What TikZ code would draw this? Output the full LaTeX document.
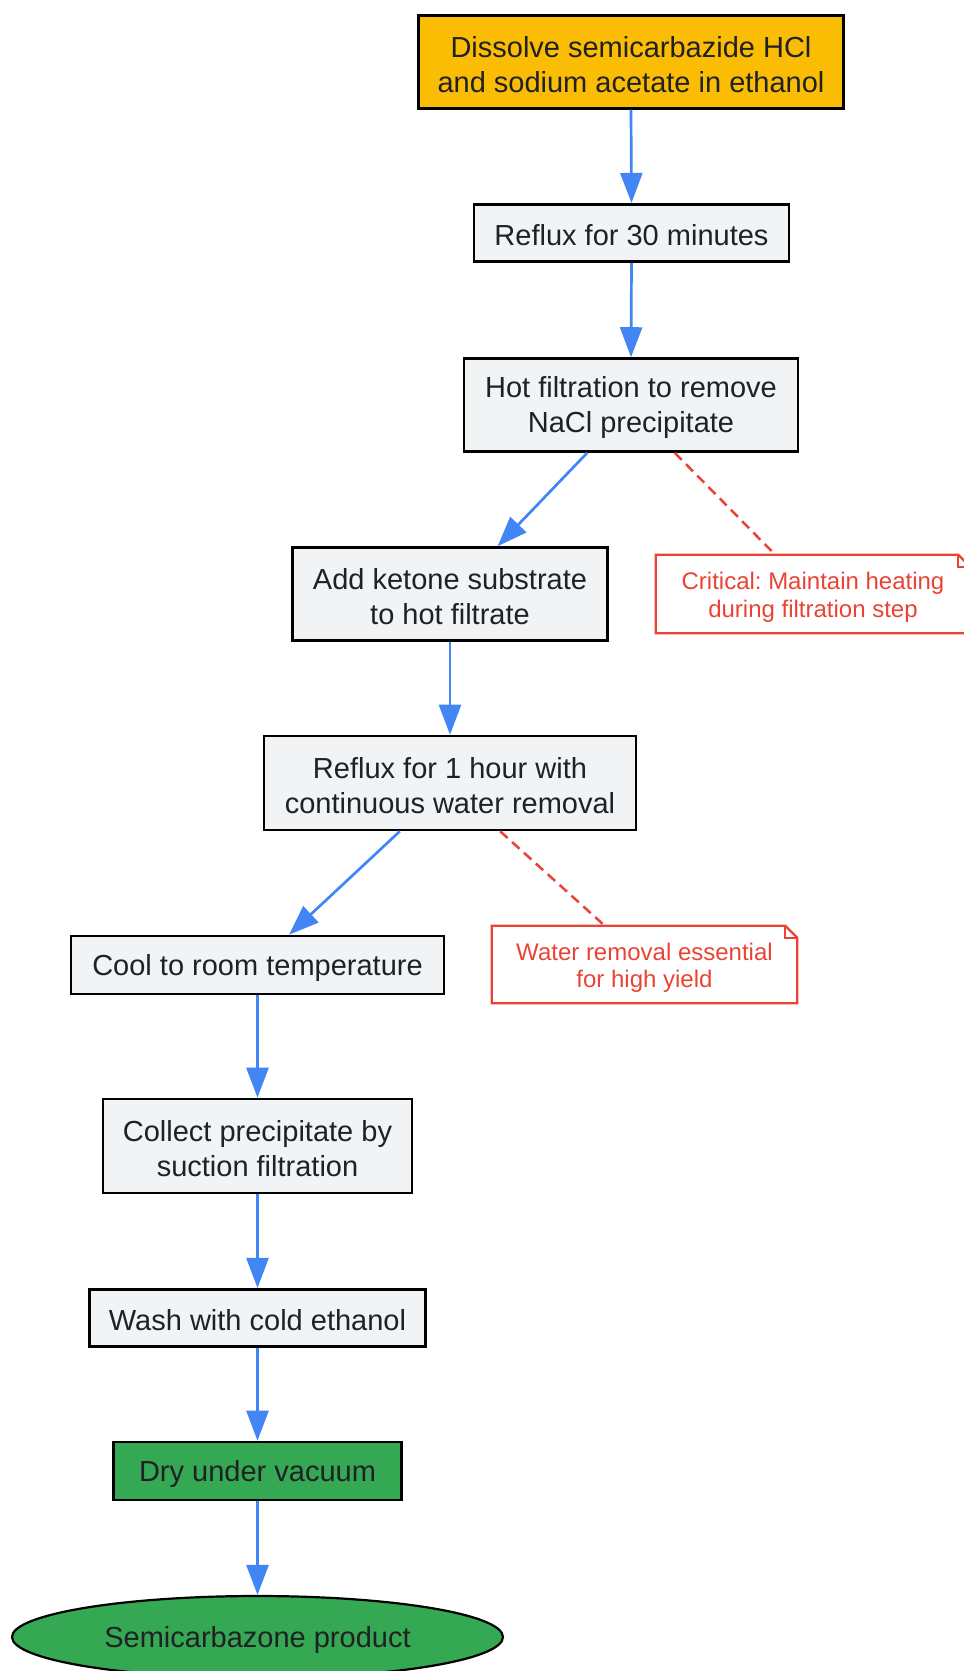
\documentclass[tikz,border=0pt]{standalone}
\usepackage{fontspec}
\setmainfont{Liberation Sans}
\usetikzlibrary{arrows.meta,shapes.geometric,calc}
\definecolor{txt}{HTML}{202124}
\definecolor{boxgray}{HTML}{F1F3F4}
\definecolor{startorange}{HTML}{FBBC04}
\definecolor{endgreen}{HTML}{34A853}
\definecolor{flowblue}{HTML}{4285F4}
\definecolor{notered}{HTML}{EA4335}
\frenchspacing
\begin{document}
\begin{tikzpicture}[x=1pt,y=1pt,
  box/.style={draw=black, line width=2.6pt, fill=boxgray, inner sep=0pt},
  boxtext/.style={text=txt, font=\fontsize{29}{35}\selectfont, align=center, inner sep=0pt, yshift=-2.5pt},
  flow/.style={draw=flowblue, line width=2.7pt, -{Triangle[length=30pt,width=22pt]}},
  notebox/.style={text=notered, font=\fontsize{24}{27.5}\selectfont, align=center, inner sep=0pt},
  noteline/.style={draw=notered, line width=2.3pt},
  notelink/.style={draw=notered, line width=2.5pt, dash pattern=on 10pt off 6pt}]
\useasboundingbox (0,0) rectangle (964,-1671);
\clip (0,0) rectangle (964,-1671);

\node[box, fill=startorange, minimum width=425pt, minimum height=92.5pt] (n1) at (631,-62) {};
\node[boxtext] at (n1.center) {Dissolve semicarbazide HCl\\and sodium acetate in ethanol};
\node[box, minimum width=315pt, minimum height=57.5pt] (n2) at (631.5,-233) {};
\node[boxtext] at (n2.center) {Reflux for 30 minutes};
\node[box, minimum width=334pt, minimum height=93pt] (n3) at (631,-405) {};
\node[boxtext] at (n3.center) {Hot filtration to remove\\NaCl precipitate};
\node[box, minimum width=315pt, minimum height=93pt] (n4) at (450,-594) {};
\node[boxtext] at (n4.center) {Add ketone substrate\\to hot filtrate};
\node[box, minimum width=372pt, minimum height=94pt] (n5) at (450,-783) {};
\node[boxtext] at (n5.center) {Reflux for 1 hour with\\continuous water removal};
\node[box, minimum width=373pt, minimum height=58pt] (n6) at (257.5,-965) {};
\node[boxtext] at (n6.center) {Cool to room temperature};
\node[box, minimum width=309pt, minimum height=94pt] (n7) at (257.5,-1146) {};
\node[boxtext] at (n7.center) {Collect precipitate by\\suction filtration};
\node[box, minimum width=336.5pt, minimum height=57.5pt] (n8) at (257.5,-1318) {};
\node[boxtext] at (n8.center) {Wash with cold ethanol};
\node[box, fill=endgreen, minimum width=287.5pt, minimum height=58pt] (n9) at (257.5,-1471) {};
\node[boxtext] at (n9.center) {Dry under vacuum};
\node[ellipse, draw=black, line width=2.2pt, fill=endgreen, inner sep=0pt,
  minimum width=491pt, minimum height=82pt] (n10) at (257.5,-1637) {};
\node[boxtext] at (n10.center) {Semicarbazone product};

% notes
\node[notebox, minimum width=314pt, minimum height=78pt] (c1) at (813,-594) {};
\node[notebox] at ($(c1.center)+(0,-3.5)$) {Critical: Maintain heating\\during filtration step};
\draw[noteline] (c1.north west) -- ($(c1.north east)+(-12,0)$) -- ($(c1.north east)+(0,-12)$)
  -- (c1.south east) -- (c1.south west) -- cycle;
\draw[noteline] ($(c1.north east)+(-12,0)$) -- ($(c1.north east)+(-12,-12)$) -- ($(c1.north east)+(0,-12)$);

\node[notebox, minimum width=305pt, minimum height=77pt] (c2) at (644.5,-964.5) {};
\node[notebox] at ($(c2.center)+(0,-3.5)$) {Water removal essential\\for high yield};
\draw[noteline] (c2.north west) -- ($(c2.north east)+(-12,0)$) -- ($(c2.north east)+(0,-12)$)
  -- (c2.south east) -- (c2.south west) -- cycle;
\draw[noteline] ($(c2.north east)+(-12,0)$) -- ($(c2.north east)+(-12,-12)$) -- ($(c2.north east)+(0,-12)$);

% flow
\draw[flow] (n1.south) -- (n2.north);
\draw[flow] (n2.south) -- (n3.north);
\draw[flow] ($(n3.south west)!0.37!(n3.south east)$) -- ($(n4.north west)!0.65!(n4.north east)$);
\draw[notelink] ($(n3.south west)!0.63!(n3.south east)$) -- ($(c1.north west)!0.38!(c1.north east)$);
\draw[flow] (n4.south) -- (n5.north);
\draw[flow] ($(n5.south west)!0.366!(n5.south east)$) -- ($(n6.north west)!0.584!(n6.north east)$);
\draw[notelink] ($(n5.south west)!0.634!(n5.south east)$) -- ($(c2.north west)!0.37!(c2.north east)$);
\draw[flow] (n6.south) -- (n7.north);
\draw[flow] (n7.south) -- (n8.north);
\draw[flow] (n8.south) -- (n9.north);
\draw[flow] (n9.south) -- (n10.north);
\end{tikzpicture}
\end{document}
